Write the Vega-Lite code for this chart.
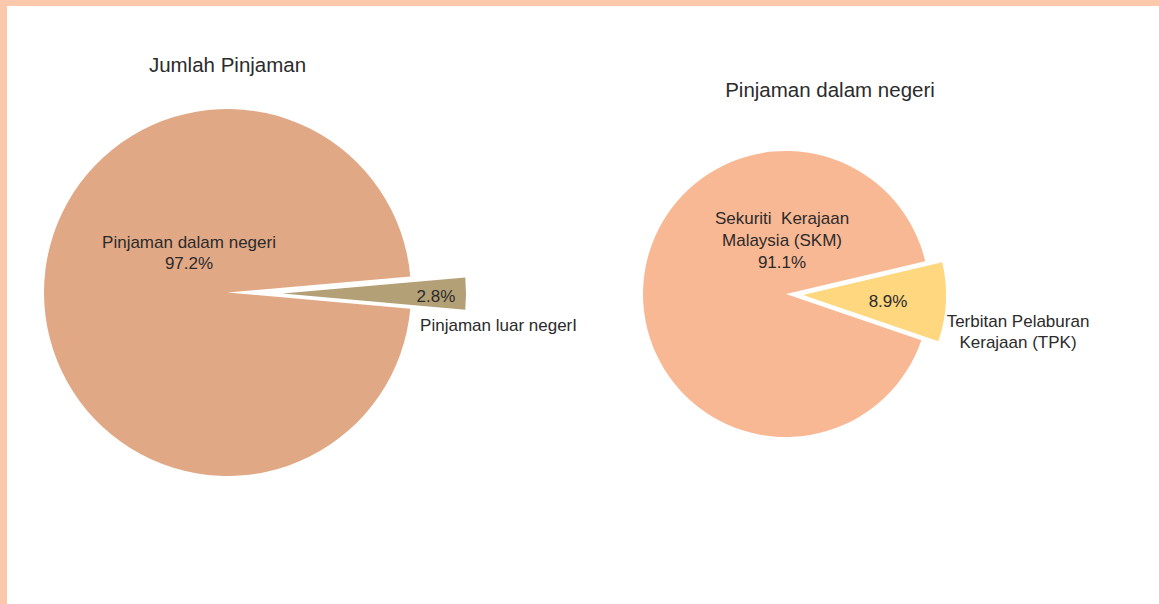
{
  "$schema": "https://vega.github.io/schema/vega-lite/v6.json",
  "background": "#FBC8AB",
  "padding": {"left": 7, "top": 6, "right": 0, "bottom": 0},
  "spacing": 0,
  "bounds": "flush",
  "config": {
    "view": {"stroke": null, "fill": "white"},
    "style": {"cell": {"fill": "white", "stroke": null}},
    "font": "Liberation Sans",
    "text": {"font": "Liberation Sans", "fontSize": 17, "color": "#2b2b2b"},
    "title": {"font": "Liberation Sans", "fontSize": 20.5, "fontWeight": "normal", "color": "#2b2b2b", "frame": "group", "baseline": "alphabetic"}
  },
  "resolve": {"scale": {"theta": "independent", "color": "independent"}},
  "hconcat": [
    {
      "width": 590,
      "height": 598,
      "view": {"fill": "white", "stroke": null},
      "title": {"text": "Jumlah Pinjaman", "offset": -70.5, "dx": -74.5},
      "data": {"values": [
        {"kategori": "Pinjaman luar negerI", "bahagian": 0.028},
        {"kategori": "Pinjaman dalam negeri", "bahagian": 0.972}
      ]},
      "transform": [{"stack": "bahagian", "groupby": [], "sort": [{"field": "bahagian", "order": "ascending"}], "as": ["t0", "t1"]}],
      "encoding": {
        "theta": {"field": "t0", "type": "quantitative", "scale": {"domain": [0, 1], "range": [1.48353, 7.76672]}},
        "theta2": {"field": "t1"},
        "color": {"field": "kategori", "type": "nominal", "scale": {"domain": ["Pinjaman dalam negeri", "Pinjaman luar negerI"], "range": ["#E1A886", "#B4A077"]}, "legend": null}
      },
      "layer": [
        {"transform": [{"filter": "datum.bahagian > 0.5"}], "mark": {"type": "arc", "radius": 183.5, "xOffset": -74.5, "yOffset": -12.5}},
        {"transform": [{"filter": "datum.bahagian < 0.5"}], "mark": {"type": "arc", "radius": 183.5, "xOffset": -19.5, "yOffset": -11.5}},
        {"transform": [{"filter": "datum.bahagian > 0.5"}], "mark": {"type": "text", "radius": 0, "dx": -113, "dy": -57, "baseline": "alphabetic"}, "encoding": {"text": {"field": "kategori"}, "color": {"value": "#2b2b2b"}}},
        {"transform": [{"filter": "datum.bahagian > 0.5"}], "mark": {"type": "text", "radius": 0, "dx": -113, "dy": -36, "baseline": "alphabetic"}, "encoding": {"text": {"field": "bahagian", "format": ".1%"}, "color": {"value": "#2b2b2b"}}},
        {"transform": [{"filter": "datum.bahagian < 0.5"}], "mark": {"type": "text", "radius": 134.5, "dy": 8.7, "baseline": "alphabetic"}, "encoding": {"text": {"field": "bahagian", "format": ".1%"}, "color": {"value": "#2b2b2b"}}},
        {"transform": [{"filter": "datum.bahagian < 0.5"}], "mark": {"type": "text", "radius": 197.3, "dy": 42.7, "baseline": "alphabetic"}, "encoding": {"text": {"field": "kategori"}, "color": {"value": "#2b2b2b"}}}
      ]
    },
    {
      "width": 562,
      "height": 598,
      "view": {"fill": "white", "stroke": null},
      "title": {"text": "Pinjaman dalam negeri", "offset": -95.5, "dx": -48},
      "data": {"values": [
        {"kategori": "Terbitan Pelaburan\nKerajaan (TPK)", "bahagian": 0.089},
        {"kategori": "Sekuriti\u00a0 Kerajaan\nMalaysia (SKM)", "bahagian": 0.911}
      ]},
      "transform": [{"stack": "bahagian", "groupby": [], "sort": [{"field": "bahagian", "order": "ascending"}], "as": ["t0", "t1"]}],
      "encoding": {
        "theta": {"field": "t0", "type": "quantitative", "scale": {"domain": [0, 1], "range": [1.34041, 7.6236]}},
        "theta2": {"field": "t1"},
        "color": {"field": "kategori", "type": "nominal", "scale": {"domain": ["Sekuriti\u00a0 Kerajaan\nMalaysia (SKM)", "Terbitan Pelaburan\nKerajaan (TPK)"], "range": ["#F9B894", "#FED77E"]}, "legend": null}
      },
      "layer": [
        {"transform": [{"filter": "datum.bahagian > 0.5"}], "mark": {"type": "arc", "radius": 143, "xOffset": -92, "yOffset": -11}},
        {"transform": [{"filter": "datum.bahagian < 0.5"}], "mark": {"type": "arc", "radius": 143, "xOffset": -75, "yOffset": -10}},
        {"transform": [{"filter": "datum.bahagian > 0.5"}], "mark": {"type": "text", "radius": 0, "dx": -96, "dy": -81, "baseline": "alphabetic", "lineBreak": "\n", "lineHeight": 22}, "encoding": {"text": {"field": "kategori"}, "color": {"value": "#2b2b2b"}}},
        {"transform": [{"filter": "datum.bahagian > 0.5"}], "mark": {"type": "text", "radius": 0, "dx": -96, "dy": -37, "baseline": "alphabetic"}, "encoding": {"text": {"field": "bahagian", "format": ".1%"}, "color": {"value": "#2b2b2b"}}},
        {"transform": [{"filter": "datum.bahagian < 0.5"}], "mark": {"type": "text", "radius": 10.3, "dy": 4, "baseline": "alphabetic"}, "encoding": {"text": {"field": "bahagian", "format": ".1%"}, "color": {"value": "#2b2b2b"}}},
        {"transform": [{"filter": "datum.bahagian < 0.5"}], "mark": {"type": "text", "radius": 143.8, "dy": 55.3, "baseline": "alphabetic", "lineBreak": "\n", "lineHeight": 20.5}, "encoding": {"text": {"field": "kategori"}, "color": {"value": "#2b2b2b"}}}
      ]
    }
  ]
}
